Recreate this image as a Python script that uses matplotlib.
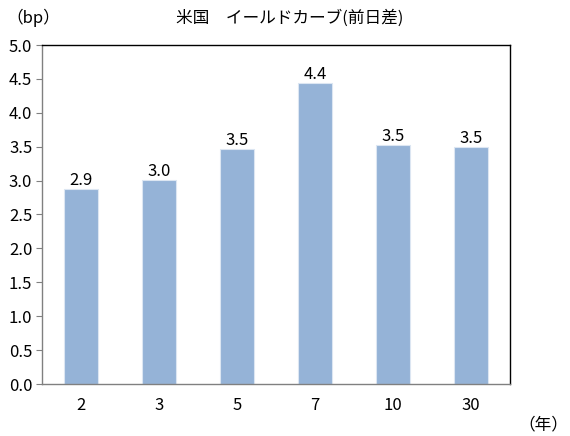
import matplotlib
matplotlib.use("Agg")
import matplotlib.pyplot as plt

plt.rcParams['font.family'] = ['Noto Sans CJK JP', 'DejaVu Sans']

categories = ["2", "3", "5", "7", "10", "30"]
values = [2.87, 3.01, 3.46, 4.44, 3.53, 3.50]
labels = ["2.9", "3.0", "3.5", "4.4", "3.5", "3.5"]
yticks = [0.0, 0.5, 1.0, 1.5, 2.0, 2.5, 3.0, 3.5, 4.0, 4.5, 5.0]

fig = plt.figure(figsize=(5.7, 4.36), dpi=100)
ax = fig.add_axes([42/570, 52/436, 468/570, 339/436])

x = list(range(len(categories)))
bars = ax.bar(x, values, width=0.43, color="#95B3D7", edgecolor="#DCE6F2", linewidth=0.8, zorder=2)
for xi, v, lab in zip(x, values, labels):
    ax.text(xi, v + 0.0, lab, ha="center", va="bottom", fontsize=12, color="black")

ax.set_xlim(-0.5, len(categories) - 0.5)
ax.set_ylim(0, 5.0)
ax.set_yticks(yticks)
ax.set_yticklabels([f"{t:.1f}" for t in yticks], fontsize=12)
ax.set_xticks(x)
ax.set_xticklabels(categories, fontsize=12)
ax.tick_params(axis="x", length=0, pad=9)
ax.tick_params(axis="y", length=4, color="#808080", direction="out", pad=3)

for s in ["top", "right"]:
    ax.spines[s].set_color("black")
    ax.spines[s].set_linewidth(1.0)
for s in ["left", "bottom"]:
    ax.spines[s].set_color("#808080")
    ax.spines[s].set_linewidth(1.0)

fig.text(290/570, 1 - 18/436, "米国　イールドカーブ(前日差)", ha="center", va="center", fontsize=12)
fig.text(6/570, 1 - 18/436, "（bp）", ha="left", va="center", fontsize=12)
fig.text(568/570, 1 - 425/436, "（年）", ha="right", va="center", fontsize=12)

fig.savefig("out.png", dpi=100)
